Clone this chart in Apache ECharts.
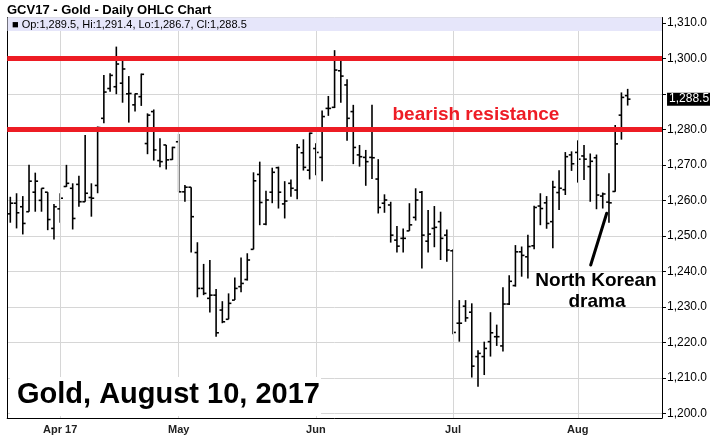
<!DOCTYPE html>
<html><head><meta charset="utf-8">
<script src="https://cdn.jsdelivr.net/npm/echarts@6/dist/echarts.min.js"></script>
<style>html,body{margin:0;padding:0;background:#fff}#c{width:710px;height:441px}</style>
</head><body><div id="c"></div>
<script>
// ---- data ----
const dates = ['03-22','03-23','03-24','03-27','03-28','03-29','03-30','03-31',
 '04-03','04-04','04-05','04-06','04-07','04-10','04-11','04-12','04-13','04-17','04-18','04-19','04-20','04-21','04-24','04-25','04-26','04-27','04-28',
 '05-01','05-02','05-03','05-04','05-05','05-08','05-09','05-10','05-11','05-12','05-15','05-16','05-17','05-18','05-19','05-22','05-23','05-24','05-25','05-26','05-30','05-31',
 '06-01','06-02','06-05','06-06','06-07','06-08','06-09','06-12','06-13','06-14','06-15','06-16','06-19','06-20','06-21','06-22','06-23','06-26','06-27','06-28','06-29','06-30',
 '07-03','07-05','07-06','07-07','07-10','07-11','07-12','07-13','07-14','07-17','07-18','07-19','07-20','07-21','07-24','07-25','07-26','07-27','07-28','07-31',
 '08-01','08-02','08-03','08-04','08-07','08-08','08-09','08-10','08-11'];
const opens = [1256.2,1259.2,1258.2,1256.8,1262.3,1260.0,1262.3,1252.1,
 1257.6,1263.9,1263.4,1264.5,1259.6,1260.8,1264.2,1283.1,1291.5,1292.0,1293.0,1290.0,1286.9,1289.2,1276.0,1285.0,1271.2,1275.6,1271.5,
 1276.5,1262.4,1263.7,1245.3,1235.2,1232.4,1233.3,1229.1,1226.5,1231.9,1235.7,1237.7,1246.2,1267.3,1253.3,1262.3,1269.2,1259.0,1264.8,1262.9,1273.4,1268.5,
 1274.6,1272.1,1285.9,1286.2,1296.5,1292.5,1285.0,1272.8,1272.1,1272.1,1266.0,1259.2,1258.7,1248.8,1249.3,1251.4,1255.2,1262.3,1248.5,1252.1,1254.0,1250.2,
 1245.8,1225.4,1230.2,1228.5,1216.0,1216.0,1220.2,1221.6,1219.0,1230.8,1236.0,1245.5,1244.1,1247.2,1258.4,1259.3,1254.0,1262.2,1263.0,1272.8,
 1273.5,1272.5,1269.5,1272.0,1261.2,1259.5,1262.5,1284.0,1289.5];
const highs = [1261.0,1262.0,1261.2,1270.0,1267.8,1263.4,1262.3,1259.0,
 1262.0,1270.0,1264.8,1266.9,1278.4,1264.8,1280.8,1295.3,1295.8,1303.3,1299.7,1295.0,1290.1,1295.7,1284.5,1285.6,1277.5,1275.6,1275.1,
 1278.7,1264.3,1263.7,1248.2,1242.1,1243.2,1235.0,1231.6,1233.8,1238.3,1243.9,1245.1,1267.9,1270.9,1262.7,1269.2,1269.5,1265.4,1265.9,1275.9,1277.2,1279.1,
 1276.1,1285.3,1289.4,1302.3,1299.4,1294.1,1286.9,1275.6,1274.2,1286.9,1271.6,1261.7,1259.6,1252.8,1252.1,1259.2,1263.4,1262.6,1257.3,1258.4,1256.8,1251.8,
 1246.2,1231.9,1231.9,1231.0,1217.8,1220.2,1228.5,1225.0,1235.5,1238.9,1247.4,1247.0,1250.3,1258.5,1262.0,1261.2,1265.5,1268.5,1273.6,1273.8,
 1276.9,1275.6,1273.2,1272.9,1262.2,1267.6,1281.2,1290.4,1291.4];
const lows = [1253.7,1252.1,1250.4,1256.8,1256.8,1256.8,1251.6,1249.0,
 1253.7,1263.8,1251.8,1258.2,1259.6,1255.4,1262.0,1281.7,1290.6,1289.9,1287.5,1281.9,1285.0,1286.6,1273.0,1271.2,1269.3,1268.7,1271.4,
 1262.4,1259.6,1245.3,1232.7,1233.3,1228.4,1221.6,1225.4,1226.5,1231.9,1234.1,1237.4,1246.2,1253.0,1253.0,1259.2,1257.7,1254.9,1261.0,1260.3,1268.4,1265.9,
 1267.1,1265.4,1283.8,1286.0,1287.5,1276.8,1270.2,1269.5,1264.1,1266.0,1256.3,1256.5,1248.1,1245.3,1245.3,1251.4,1254.3,1240.8,1245.3,1246.8,1243.2,1242.7,
 1222.3,1220.2,1225.8,1210.1,1207.5,1210.8,1216.0,1219.0,1217.4,1230.5,1235.7,1238.5,1238.0,1246.2,1253.0,1252.0,1246.5,1257.3,1261.5,1268.3,
 1265.0,1265.7,1259.6,1257.5,1257.7,1253.7,1262.4,1277.1,1286.7];
const closes = [1259.2,1256.5,1253.5,1265.4,1265.4,1263.4,1254.6,1258.2,
 1260.6,1264.8,1254.9,1259.6,1262.0,1260.6,1280.5,1290.5,1295.2,1298.4,1297.0,1290.1,1290.0,1295.5,1284.0,1274.2,1270.9,1271.4,1274.9,
 1262.4,1263.7,1255.4,1235.2,1233.8,1233.3,1222.7,1225.8,1231.0,1235.2,1236.6,1243.2,1265.5,1259.4,1260.1,1267.9,1262.3,1259.8,1263.4,1274.9,1269.3,1278.9,
 1273.5,1283.6,1285.9,1296.7,1295.0,1283.1,1274.9,1272.3,1270.9,1272.0,1258.0,1260.1,1250.2,1247.1,1249.3,1253.1,1260.1,1250.2,1250.5,1252.4,1249.3,1246.0,
 1222.8,1225.4,1226.9,1213.3,1216.9,1218.3,1222.7,1221.6,1230.8,1237.2,1245.5,1244.5,1247.0,1258.0,1257.7,1253.5,1263.7,1263.4,1272.3,1270.3,
 1271.6,1271.6,1271.0,1261.5,1261.8,1259.3,1275.9,1289.0,1288.5];
const monthStarts = ['04-03','05-01','06-01','07-03','08-01'];
const monthLabels = ['Apr 17','May','Jun','Jul','Aug'];
const resistanceLevels = [1300, 1280];
const emptySlots = ['pad1','pad2','pad3','pad4','pad5'];

const fmt = v => v.toFixed(1).replace(/^(\d)(\d{3})/, '$1,$2');
const last = dates.length - 1;
const lastClose = closes[last];
const infoText = '\u25A0 Op:' + fmt(opens[last]) + ', Hi:' + fmt(highs[last]) + ', Lo:' + fmt(lows[last]) + ', Cl:' + fmt(closes[last]);

const chart = echarts.init(document.getElementById('c'), null, {renderer: 'canvas'});
const SANS = '"Liberation Sans", Arial, sans-serif';
const NARROW = '"Liberation Sans Narrow", "Arial Narrow", "Liberation Sans", sans-serif';

chart.setOption({
  animation: false,
  backgroundColor: '#fff',
  grid: {left: 7.2, right: 47, top: 17.5, bottom: 23, containLabel: false},
  xAxis: {
    type: 'category',
    data: dates.concat(emptySlots),
    boundaryGap: true,
    axisLine: {show: true, lineStyle: {color: '#000', width: 1}},
    axisTick: {show: false},
    splitLine: {show: false},
    axisLabel: {
      interval: (i, v) => monthStarts.indexOf(v) >= 0,
      formatter: v => { const k = monthStarts.indexOf(v); return k >= 0 ? monthLabels[k] : ''; },
      fontFamily: SANS, fontWeight: 'bold', fontSize: 11, color: '#222', margin: 6
    }
  },
  yAxis: [{
    type: 'value', position: 'right', min: 1198.7, max: 1311.5, splitNumber: 11, scale: true,
    axisLine: {show: true, lineStyle: {color: '#000', width: 1}},
    axisTick: {show: true, length: 4, lineStyle: {color: '#000'}},
    splitLine: {show: true, lineStyle: {color: '#d6d6d6', width: 1}},
    axisLabel: {
      showMinLabel: false, showMaxLabel: false, margin: 5,
      formatter: v => (Math.abs(v % 10) < 1e-6 && Math.abs(v - lastClose) > 4 ? fmt(v) : ''),
      fontFamily: NARROW, fontSize: 12, color: '#000'
    }
  }, {
    type: 'value', position: 'left', min: 1198.7, max: 1311.5,
    axisLine: {show: true, lineStyle: {color: '#000', width: 1}},
    axisTick: {show: false}, axisLabel: {show: false}, splitLine: {show: false}
  }],
  series: [
    {
      type: 'line', name: 'monthGrid', data: [], silent: true, z: 1,
      markLine: {
        silent: true, symbol: ['none', 'none'], label: {show: false},
        lineStyle: {color: '#d6d6d6', width: 1, type: 'solid'},
        data: monthStarts.map(d => ({xAxis: d}))
      }
    },
    {
      type: 'custom', name: 'OHLC', z: 3,
      encode: {x: 0, y: [1, 2, 3, 4]},
      data: dates.map((d, i) => [i, opens[i], highs[i], lows[i], closes[i]]),
      renderItem: (params, api) => {
        const i = api.value(0);
        const pO = api.coord([i, api.value(1)]);
        const pH = api.coord([i, api.value(2)]);
        const pL = api.coord([i, api.value(3)]);
        const pC = api.coord([i, api.value(4)]);
        const w = api.size([1, 0])[0] * 0.45;
        const st = {stroke: '#000', lineWidth: 1.6};
        return {type: 'group', children: [
          {type: 'line', shape: {x1: pH[0], y1: pH[1], x2: pL[0], y2: pL[1]}, style: st},
          {type: 'line', shape: {x1: pO[0] - w, y1: pO[1], x2: pO[0], y2: pO[1]}, style: st},
          {type: 'line', shape: {x1: pC[0], y1: pC[1], x2: pC[0] + w, y2: pC[1]}, style: st}
        ]};
      }
    },
    {
      type: 'line', name: 'levels', data: [], silent: true, z: 5,
      markLine: {
        silent: true, symbol: ['none', 'none'], label: {show: false},
        lineStyle: {color: '#ed1c24', width: 5, type: 'solid'},
        data: resistanceLevels.map(v => ({yAxis: v}))
      }
    }
  ],
  graphic: [
    {type: 'text', x: 7, y: 4, z: 100, style: {text: 'GCV17 - Gold - Daily OHLC Chart', font: 'bold 13px ' + SANS, fill: '#000'}},
    {type: 'rect', z: 100, shape: {x: 7.5, y: 17.5, width: 654.5, height: 13.5}, style: {fill: '#e6e6fa'}},
    {type: 'text', x: 12, y: 24.5, z: 101, style: {text: infoText, font: '11px ' + SANS, fill: '#000', verticalAlign: 'middle'}},
    {type: 'text', x: 392.5, y: 115, z: 101, style: {text: 'bearish resistance', font: 'bold 19px ' + SANS, fill: '#ee1c25', verticalAlign: 'middle'}},
    {type: 'rect', z: 100, shape: {x: 10, y: 377, width: 311, height: 39}, style: {fill: '#fff'}},
    {type: 'text', x: 17, y: 394.5, z: 101, style: {text: 'Gold, August 10, 2017', font: 'bold 29px ' + SANS, fill: '#000', verticalAlign: 'middle'}},
    {type: 'text', x: 596, y: 281, z: 101, style: {text: 'North Korean', font: 'bold 19px ' + SANS, fill: '#000', align: 'center', verticalAlign: 'middle'}},
    {type: 'text', x: 597, y: 302, z: 101, style: {text: 'drama', font: 'bold 19px ' + SANS, fill: '#000', align: 'center', verticalAlign: 'middle'}},
    {type: 'line', z: 101, shape: {x1: 590.7, y1: 265, x2: 606.7, y2: 213.3}, style: {stroke: '#000', lineWidth: 3, lineCap: 'round'}}
  ]
});

// last-price tag on the right axis, positioned through the axis scale
const tagY = chart.convertToPixel({yAxisIndex: 0}, lastClose);
const axisX = chart.convertToPixel({xAxisIndex: 0}, 'pad5') + 3.2;
chart.setOption({
  graphic: [{
    id: 'lastTag', type: 'text', x: axisX + 5, y: tagY, z: 102,
    style: {text: fmt(lastClose), font: '12px ' + NARROW, fill: '#fff', backgroundColor: '#000',
      padding: [1, 1, 0, 2], verticalAlign: 'middle'}
  }]
});
</script>
</body></html>
